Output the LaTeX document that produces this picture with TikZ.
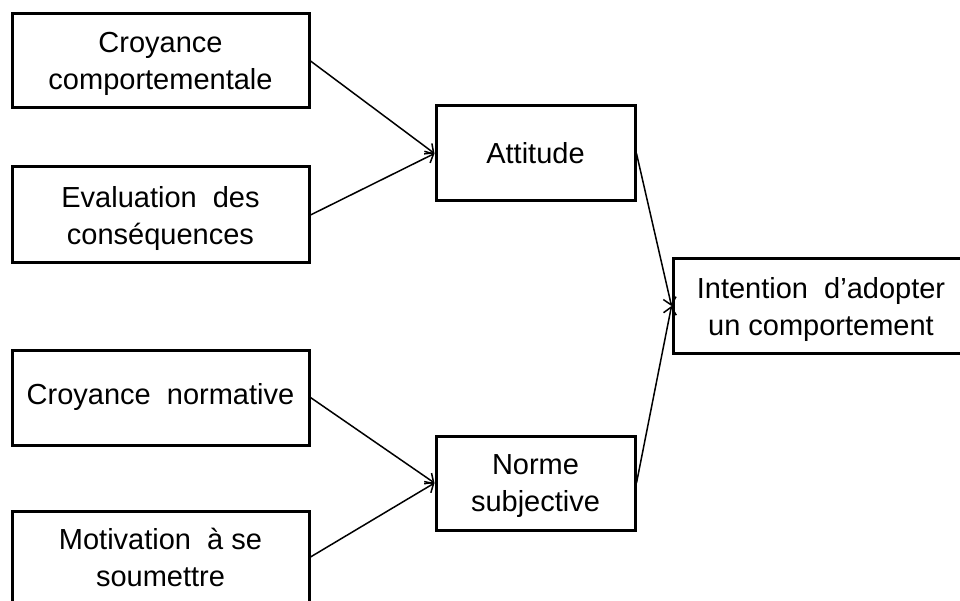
\documentclass[tikz,border=0pt]{standalone}
\usepackage{fontspec}
\setmainfont{Liberation Sans}
\usetikzlibrary{arrows.meta,positioning}

\begin{document}
\begin{tikzpicture}[x=1pt,y=-1pt]
      \tikzstyle{every node}=[rectangle,draw,line width=3pt,align=center,inner sep=0pt,font=\fontsize{29}{37}\selectfont]
      \tikzstyle{deux}=[text depth=0pt]
      \tikzstyle{fleche}=[-{Straight Barb[length=7pt,width=13pt]},line width=1.5pt]
      \useasboundingbox (0,0) rectangle (960,601);
      \clip (0,0) rectangle (960,601);

      \node[deux,minimum width=297pt,minimum height=94pt] (cc)  at (160.5,61)    {Croyance\\comportementale};
      \node[deux,minimum width=297pt,minimum height=96pt] (ec)  at (160.5,215)   {Evaluation\ \ des\\conséquences};
      \node[minimum width=297pt,minimum height=95pt]      (cn)  at (160.5,397.5) {Croyance\ \ normative};
      \node[deux,minimum width=297pt,minimum height=92pt] (ms)  at (160.5,557)   {Motivation\ \ à se\\soumettre};
      \node[minimum width=199pt,minimum height=95pt]      (att) at (535.5,153.5) {Attitude};
      \node[deux,minimum width=199pt,minimum height=94pt] (ns)  at (535.5,483)   {Norme\\subjective};
      \node[deux,minimum width=296pt,minimum height=94pt] (int) at (821,306)     {Intention\ \ d’adopter\\un comportement};

      \draw[fleche] (cc.east)  -- (att.west);
      \draw[fleche] (ec.east)  -- (att.west);
      \draw[fleche] (cn.east)  -- (ns.west);
      \draw[fleche] (ms.east)  -- (ns.west);
      \draw[fleche] (att.east) -- (int.west);
      \draw[fleche] (ns.east)  -- (int.west);
\end{tikzpicture}
\end{document}
